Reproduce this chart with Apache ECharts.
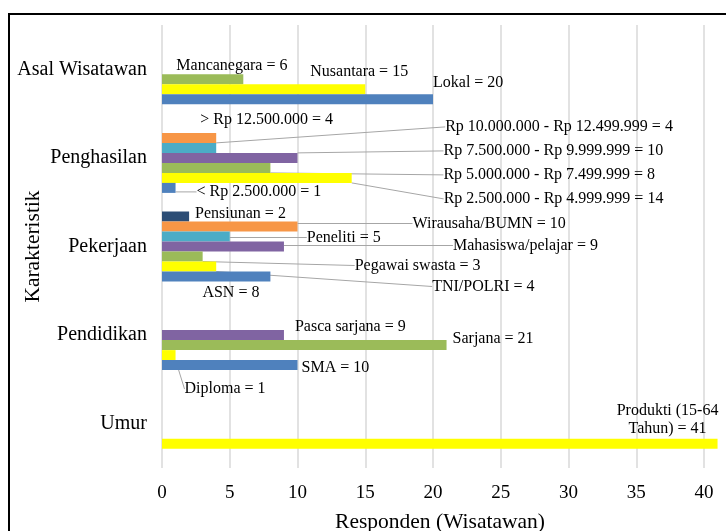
<!DOCTYPE html>
<html>
<head>
<meta charset="utf-8">
<script src="https://cdn.jsdelivr.net/npm/echarts@6/dist/echarts.min.js"></script>
<style>
  html, body { margin: 0; padding: 0; background: #fff; }
  #chartsDiv { width: 726px; height: 531px; }
</style>
</head>
<body>
<div id="chartsDiv"></div>
<script>
// kategori (dari bawah ke atas)
var categories = ['Umur', 'Pendidikan', 'Pekerjaan', 'Penghasilan', 'Asal Wisatawan'];
var xTicks = [0, 5, 10, 15, 20, 25, 30, 35, 40];

// nilai per slot warna, urutan sesuai categories
var blueValues   = [null, 10, 8, 1, 20];
var yellowValues = [41, 1, 4, 14, 15];
var greenValues  = [null, 21, 3, 8, 6];
var purpleValues = [null, 9, 9, 10, null];
var tealValues   = [null, null, 5, 4, null];
var orangeValues = [null, null, 10, 4, null];
var navyValues   = [null, null, 2, null, null];

var blueNames   = ['', 'SMA', 'ASN', '< Rp 2.500.000', 'Lokal'];
var yellowNames = ['Produkti (15-64\nTahun)', 'Diploma', 'TNI/POLRI', 'Rp 2.500.000 - Rp 4.999.999', 'Nusantara'];
var greenNames  = ['', 'Sarjana', 'Pegawai swasta', 'Rp 5.000.000 - Rp 7.499.999', 'Mancanegara'];
var purpleNames = ['', 'Pasca sarjana', 'Mahasiswa/pelajar', 'Rp 7.500.000 - Rp 9.999.999', ''];
var tealNames   = ['', '', 'Peneliti', 'Rp 10.000.000 - Rp 12.499.999', ''];
var orangeNames = ['', '', 'Wirausaha/BUMN', '> Rp 12.500.000', ''];
var navyNames   = ['', '', 'Pensiunan', '', ''];

// posisi label: [dx, dy, garis, jarak garis]
var labelOffsets = [
  [null, [4, 3, 0, 0], [-68, 16, 0, 0], [21, 4, 1, 5], [0, -17, 0, 0]],
  [[-50, -24, 0, 0], [9, 34, 1, 0], [216, 20, 1, 7], [92, 21, 1, 21], [-55, -18, 0, 0]],
  [null, [6, -6, 0, 0], [152, 9, 1, 20], [173, 7, 1, 23], [-67, -14, 0, 0]],
  [null, [11, -8, 0, 0], [169, -1, 1, 23], [146, -7, 1, 28], null],
  [null, null, [77, 1, 1, 7], [229, -21, 1, 25], null],
  [null, null, [115, -3, 1, 22], [-16, -18, 0, 0], null],
  [null, null, [6, -3, 0, 0], null, null]
];

var slots = [
  { values: blueValues,   names: blueNames,   color: '#4F81BD' },
  { values: yellowValues, names: yellowNames, color: '#FFFF00' },
  { values: greenValues,  names: greenNames,  color: '#9BBB59' },
  { values: purpleValues, names: purpleNames, color: '#8064A2' },
  { values: tealValues,   names: tealNames,   color: '#4BACC6' },
  { values: orangeValues, names: orangeNames, color: '#F79646' },
  { values: navyValues,   names: navyNames,   color: '#2C4D75' }
];

var fontName = 'Liberation Serif';

var makeSeries = function (slot, s) {
  var data = slot.values.map(function (v, i) {
    var o = labelOffsets[s][i];
    if (v === null || !o) return { value: v };
    var item = {
      value: v,
      label: { padding: [0, 0, 0, o[3]] },
      labelLine: { show: !!o[2] }
    };
    if (s === 1 && i === 0) {
      item.label.align = 'center';
      item.label.lineHeight = 18;
    }
    return item;
  });
  return {
    type: 'bar',
    barWidth: 10,
    barGap: '0%',
    clip: false,
    silent: true,
    itemStyle: { color: slot.color },
    label: {
      show: true,
      position: 'right',
      distance: 0,
      fontFamily: fontName,
      fontSize: 16,
      color: '#000',
      formatter: function (p) {
        return slot.names[p.dataIndex] + ' = ' + p.value;
      }
    },
    labelLine: {
      show: true,
      lineStyle: { color: '#A6A6A6', width: 1 }
    },
    labelLayout: function (params) {
      var o = labelOffsets[s][params.dataIndex];
      if (!o) return {};
      return { dx: o[0] - o[3], dy: o[1] };
    },
    data: data
  };
};

// seri pertama digambar paling atas, jadi urutan dibalik
var seriesList = slots.map(makeSeries).reverse();

var chart = echarts.init(document.getElementById('chartsDiv'));
var option = {
  animation: false,
  textStyle: { fontFamily: fontName },
  graphic: [{
    type: 'rect',
    shape: { x: 9, y: 14, width: 800, height: 600 },
    style: { fill: 'none', stroke: '#000', lineWidth: 2 },
    silent: true
  }],
  grid: { left: 162, right: 22, top: 25, bottom: 63, outerBoundsMode: 'none', containLabel: false },
  xAxis: {
    type: 'value',
    min: xTicks[0],
    max: xTicks[xTicks.length - 1],
    interval: 5,
    name: 'Responden (Wisatawan)',
    nameLocation: 'middle',
    nameGap: 43,
    nameMoveOverlap: false,
    nameTextStyle: { fontSize: 21.5, color: '#000', fontFamily: fontName, padding: [0, 0, 0, 14] },
    axisLine: { show: false },
    axisTick: { show: false },
    axisLabel: { fontSize: 19, color: '#000', margin: 16, fontFamily: fontName },
    splitLine: { show: true, lineStyle: { color: '#D9D9D9', width: 1.5 } }
  },
  yAxis: {
    type: 'category',
    data: categories,
    name: 'Karakteristik',
    nameLocation: 'middle',
    nameRotate: 90,
    nameGap: 118,
    nameMoveOverlap: false,
    nameTextStyle: { fontSize: 21.5, color: '#000', fontFamily: fontName },
    axisLine: { show: false },
    axisTick: { show: false },
    axisLabel: { fontSize: 20, color: '#000', margin: 15, fontFamily: fontName },
    splitLine: { show: false }
  },
  series: seriesList
};
chart.setOption(option);
</script>
</body>
</html>
